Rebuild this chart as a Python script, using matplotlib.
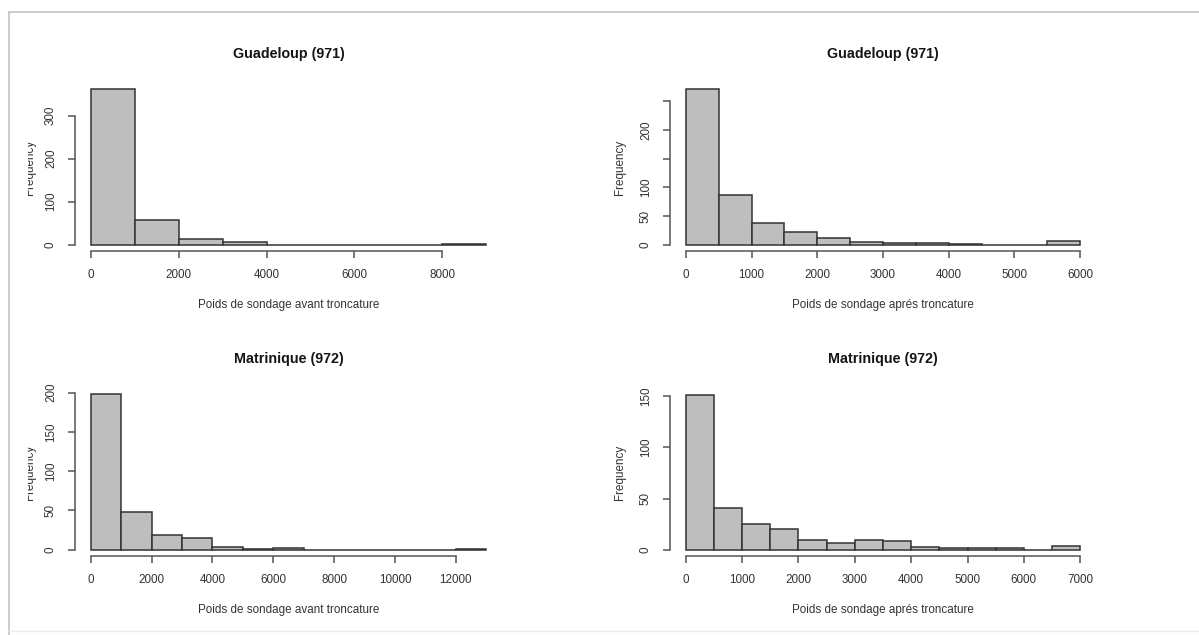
import matplotlib.pyplot as plt
from matplotlib.transforms import Bbox

plt.rcParams['font.family'] = ['Liberation Sans', 'DejaVu Sans']

W, H = 1199, 635

# histogram data (bin width, counts)
guad_avant_width = 1000
guad_avant_counts = [361, 58, 14, 6, 0, 0, 0, 0, 1]
guad_apres_width = 500
guad_apres_counts = [271, 86, 38, 23, 11, 5, 3, 3, 2, 0, 0, 6]
mart_avant_width = 1000
mart_avant_counts = [198, 48, 19, 15, 3, 1, 2, 0, 0, 0, 0, 0, 1]
mart_apres_width = 500
mart_apres_counts = [151, 41, 25, 20, 10, 7, 10, 9, 3, 2, 2, 2, 0, 4]

titles = ["Guadeloup (971)", "Guadeloup (971)", "Matrinique (972)", "Matrinique (972)"]
xlabels = ["Poids de sondage avant troncature", "Poids de sondage aprés troncature",
           "Poids de sondage avant troncature", "Poids de sondage aprés troncature"]
xticks = [[0, 2000, 4000, 6000, 8000],
          [0, 1000, 2000, 3000, 4000, 5000, 6000],
          [0, 2000, 4000, 6000, 8000, 10000, 12000],
          [0, 1000, 2000, 3000, 4000, 5000, 6000, 7000]]
yticks = [[0, 100, 200, 300],
          [0, 50, 100, 150, 200, 250],
          [0, 50, 100, 150, 200],
          [0, 50, 100, 150]]
ytick_labels = [["0", "100", "200", "300"],
                ["0", "50", "100", "", "200", ""],
                ["0", "50", "100", "150", "200"],
                ["0", "50", "100", "150"]]

panels = [(guad_avant_width, guad_avant_counts),
          (guad_apres_width, guad_apres_counts),
          (mart_avant_width, mart_avant_counts),
          (mart_apres_width, mart_apres_counts)]

# plot regions in pixels: left, right, top, bottom
boxes = [(75, 502, 83, 251), (670, 1096, 83, 251),
         (75, 502, 388, 556), (670, 1096, 389, 556)]

fig = plt.figure(figsize=(W / 100, H / 100), dpi=100)

# screenshot frame
fig.add_artist(plt.Line2D([8.8 / W, 8.8 / W], [0, 1 - 12.3 / H], color="#c4c4c4", lw=1.2))
fig.add_artist(plt.Line2D([8.8 / W, 1], [1 - 12.3 / H, 1 - 12.3 / H], color="#c4c4c4", lw=1.2))
fig.add_artist(plt.Line2D([8.8 / W, 1], [1 - 631 / H, 1 - 631 / H], color="#ececec", lw=1.0))

txt = "#333333"
for i, ((bw, counts), (l, r, t, b)) in enumerate(zip(panels, boxes)):
    ax = fig.add_axes([l / W, 1 - b / H, (r - l) / W, (b - t) / H])
    edges = [k * bw for k in range(len(counts) + 1)]
    ax.bar(edges[:-1], counts, width=bw, align="edge", color="#bebebe",
           edgecolor="#333333", linewidth=1.1)
    xmax = edges[-1]
    ymax = max(counts)
    ax.set_xlim(-0.04 * xmax, 1.04 * xmax)
    ax.set_ylim(-0.04 * ymax, 1.04 * ymax)
    for s in ["top", "right"]:
        ax.spines[s].set_visible(False)
    ax.spines["bottom"].set_bounds(xticks[i][0], xticks[i][-1])
    ax.spines["left"].set_bounds(yticks[i][0], yticks[i][-1])
    for s in ["bottom", "left"]:
        ax.spines[s].set_color("#555555")
        ax.spines[s].set_linewidth(1.1)
    ax.set_xticks(xticks[i])
    ax.set_xticklabels([str(v) for v in xticks[i]])
    ax.set_yticks(yticks[i])
    ax.set_yticklabels(ytick_labels[i], rotation=90, va="center")
    ax.tick_params(length=5, width=1.1, color="#555555", labelsize=8.4,
                   labelcolor=txt, pad=8)
    hpx = b - t
    ax.text(0.5, 1 + (t - (54 if i < 2 else 359)) / hpx, titles[i], transform=ax.transAxes,
            ha="center", va="center", fontsize=10.3, fontweight="bold", color="#151515")
    ax.text(0.5, -54 / hpx, xlabels[i], transform=ax.transAxes,
            ha="center", va="center", fontsize=8.4, color=txt)
    if i % 2 == 0:
        # the left labels are cut by the window edge in the screenshot
        yl = fig.text(30 / W, 1 - (t + b) / 2 / H, "Frequency", rotation=90,
                      ha="center", va="center", fontsize=8.4, color=txt)
        yl.set_clip_box(Bbox.from_extents(28.3, 0, W, H))
        yl.set_clip_on(True)
    else:
        fig.text(620 / W, 1 - (t + b) / 2 / H, "Frequency", rotation=90,
                 ha="center", va="center", fontsize=8.4, color=txt)

fig.savefig("out.png", dpi=100)
